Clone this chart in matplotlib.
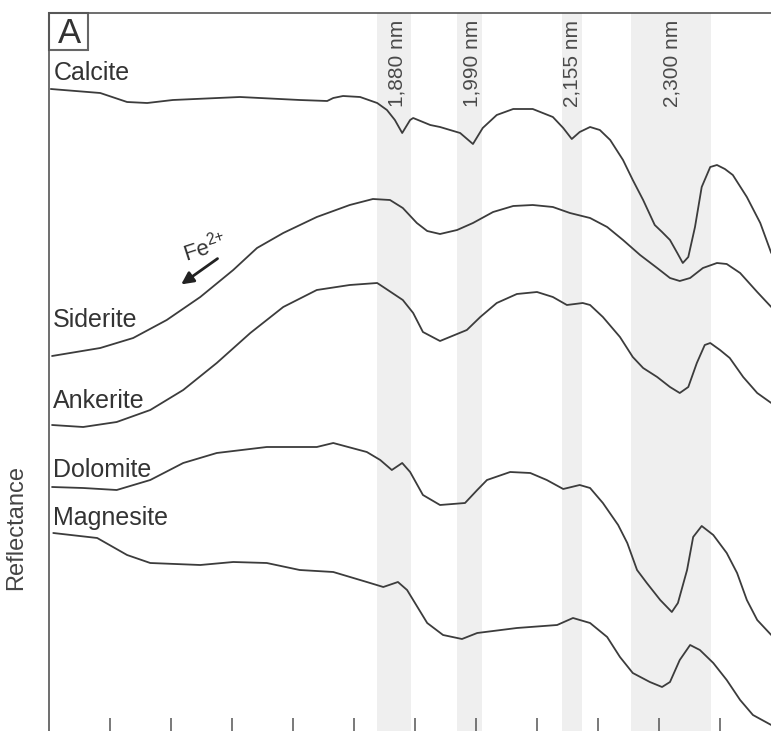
import matplotlib
matplotlib.use('Agg')
import matplotlib.pyplot as plt
from matplotlib.patches import Rectangle

plt.rcParams['font.family'] = ['Liberation Sans', 'DejaVu Sans']
plt.rcParams['mathtext.fontset'] = 'custom'
plt.rcParams['mathtext.rm'] = 'Liberation Sans'
plt.rcParams['mathtext.it'] = 'Liberation Sans'

# Wavelength (nm) and relative reflectance (offset, arbitrary units)
calcite_wl = [1303, 1384, 1428, 1461, 1503, 1613, 1711, 1756, 1766, 1782,
              1810, 1838, 1854, 1867, 1879, 1892, 1897, 1925, 1941, 1974,
              1995, 2011, 2034, 2061, 2093, 2126, 2143, 2157, 2170, 2187,
              2203, 2220, 2241, 2257, 2274, 2293, 2305, 2318, 2330, 2339,
              2348, 2359, 2370, 2384, 2395, 2408, 2421, 2444, 2466, 2484]
calcite_r = [642, 638, 629, 628, 631, 634, 631, 630, 633, 635,
             634, 628, 621, 611, 598, 611, 613, 606, 604, 598,
             587, 603, 616, 622, 622, 614, 603, 592, 599, 604,
             601, 591, 571, 551, 531, 506, 499, 491, 478, 468,
             474, 504, 544, 564, 566, 562, 556, 534, 508, 478]

siderite_wl = [1305, 1384, 1438, 1493, 1548, 1602, 1641, 1684, 1739, 1793,
               1831, 1859, 1880, 1903, 1920, 1941, 1969, 1995, 2028, 2061,
               2093, 2126, 2154, 2187, 2215, 2241, 2269, 2297, 2318, 2334,
               2351, 2372, 2395, 2411, 2433, 2461, 2484]
siderite_r = [375, 383, 393, 411, 434, 461, 483, 498, 514, 526,
              532, 531, 523, 508, 500, 497, 501, 508, 519, 525,
              526, 524, 518, 513, 504, 491, 476, 463, 453, 450,
              453, 463, 468, 467, 458, 439, 424]

ankerite_wl = [1305, 1356, 1411, 1466, 1520, 1575, 1630, 1684, 1739, 1793,
               1838, 1848, 1880, 1897, 1913, 1941, 1985, 2007, 2034, 2067,
               2100, 2126, 2149, 2175, 2187, 2208, 2236, 2257, 2274, 2297,
               2318, 2334, 2348, 2362, 2375, 2384, 2400, 2416, 2438, 2461,
               2484]
ankerite_r = [306, 304, 309, 321, 341, 368, 398, 424, 441, 446,
              448, 444, 431, 418, 399, 390, 401, 414, 428, 437,
              439, 434, 426, 428, 426, 414, 394, 374, 363, 354,
              344, 338, 344, 368, 386, 388, 381, 373, 354, 338,
              328]

dolomite_wl = [1305, 1356, 1411, 1466, 1520, 1575, 1657, 1739, 1766, 1821,
               1843, 1862, 1879, 1892, 1913, 1941, 1982, 2002, 2018, 2056,
               2089, 2116, 2143, 2170, 2187, 2208, 2233, 2248, 2264, 2280,
               2302, 2321, 2331, 2346, 2356, 2370, 2389, 2411, 2428, 2444,
               2461, 2484]
dolomite_r = [244, 243, 241, 251, 268, 278, 284, 284, 288, 279,
              271, 261, 268, 259, 236, 226, 228, 241, 251, 259,
              258, 251, 242, 246, 243, 228, 206, 188, 161, 148,
              131, 119, 128, 161, 194, 205, 196, 178, 158, 131,
              111, 96]

magnesite_wl = [1307, 1379, 1428, 1466, 1548, 1602, 1657, 1711, 1766, 1821,
                1848, 1872, 1887, 1920, 1946, 1977, 2002, 2067, 2133, 2159,
                2187, 2215, 2236, 2257, 2285, 2305, 2318, 2334, 2351, 2367,
                2389, 2411, 2433, 2454, 2484]
magnesite_r = [198, 193, 176, 168, 166, 169, 168, 161, 159, 149,
               144, 149, 141, 108, 96, 92, 98, 103, 106, 113,
               108, 94, 74, 58, 49, 44, 49, 71, 86, 81,
               68, 51, 31, 16, 6]

minerals = ['Calcite', 'Siderite', 'Ankerite', 'Dolomite', 'Magnesite']
label_y = [651, 404, 323, 254, 206]

# absorption bands (nm): start, end, label, label x
band_start = [1838, 1969, 2141, 2254]
band_end = [1893, 2010, 2174, 2385]
band_labels = ['1,880 nm', '1,990 nm', '2,155 nm', '2,300 nm']
band_label_x = [1870, 1993, 2157, 2321]

fig = plt.figure(figsize=(7.71, 7.31), dpi=100)
ax = fig.add_axes([49 / 771, 0, 722 / 771, 718 / 731])
ax.set_xlim(1300, 2483.6)
ax.set_ylim(0, 718)

for s, e in zip(band_start, band_end):
    ax.axvspan(s, e, color='#efefef', lw=0, zorder=0)
for lab, x in zip(band_labels, band_label_x):
    ax.text(x, 711, lab, rotation=90, ha='center', va='top',
            fontsize=15, color='#4a4a4a')

line_kw = dict(color='#3c3c3c', lw=1.3, zorder=3,
               solid_joinstyle='round', solid_capstyle='round')
ax.plot(calcite_wl, calcite_r, **line_kw)
ax.plot(siderite_wl, siderite_r, **line_kw)
ax.plot(ankerite_wl, ankerite_r, **line_kw)
ax.plot(dolomite_wl, dolomite_r, **line_kw)
ax.plot(magnesite_wl, magnesite_r, **line_kw)

for name, y in zip(minerals, label_y):
    ax.text(1307, y, name, ha='left', va='baseline', fontsize=18, color='#333333')

# Fe2+ arrow
ax.annotate('', xy=(1513, 445), xytext=(1580, 474),
            arrowprops=dict(arrowstyle='-|>', lw=2, color='#222222',
                            mutation_scale=18))
ax.text(1556, 484, r'Fe$^{2{+}}$', rotation=18, ha='center', va='center',
        fontsize=16, color='#333333')

# panel letter
ax.add_patch(Rectangle((0, 0.9485), 0.054, 0.0515, transform=ax.transAxes,
                       fill=False, edgecolor='#666666', lw=1.5, clip_on=False))
ax.text(0.029, 0.9715, 'A', transform=ax.transAxes, ha='center', va='center',
        fontsize=25, color='#333333')

ax.set_ylabel('Reflectance', fontsize=17, color='#444444')
ax.yaxis.set_label_coords(-0.0305, 0.283)

ax.set_xticks(range(1400, 2401, 100))
ax.tick_params(axis='x', direction='in', length=9.5, width=1.1,
               color='#555555', labelbottom=False)
ax.set_yticks([])
for side in ['bottom', 'right']:
    ax.spines[side].set_visible(False)
for side in ['top', 'left']:
    ax.spines[side].set_color('#555555')
    ax.spines[side].set_linewidth(1.2)

fig.savefig('out.png', dpi=100)
